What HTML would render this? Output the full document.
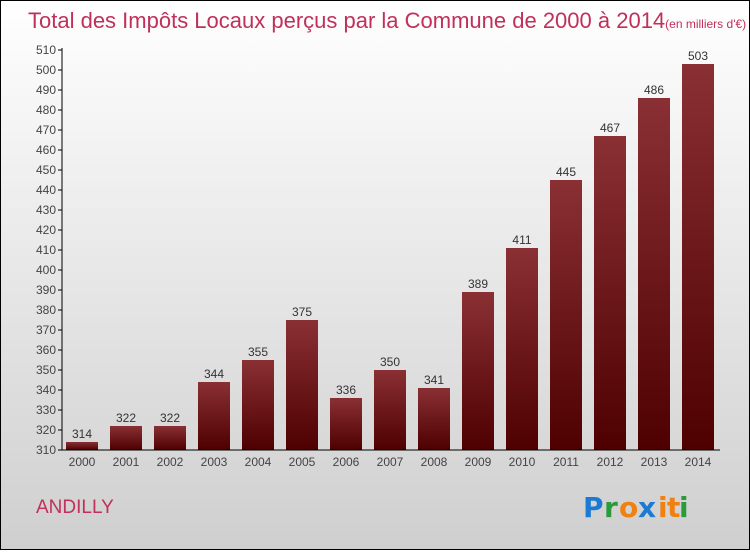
<!DOCTYPE html>
<html><head><meta charset="utf-8"><style>
body{margin:0}
#c{width:750px;height:550px;position:relative;font-family:"Liberation Sans","DejaVu Sans",sans-serif}
</style></head><body>
<div id="c">
<svg width="750" height="550" xmlns="http://www.w3.org/2000/svg">
<defs>
<linearGradient id="bg" x1="0" y1="0" x2="0" y2="1"><stop offset="0" stop-color="#ffffff"/><stop offset="1" stop-color="#cfcfcf"/></linearGradient>
<linearGradient id="bar" x1="0" y1="0" x2="0" y2="1"><stop offset="0" stop-color="#8a3034"/><stop offset="1" stop-color="#4e0000"/></linearGradient>
</defs>
<rect x="0.5" y="0.5" width="749" height="549" fill="url(#bg)" stroke="#000"/>
<text x="28" y="28" font-size="22" fill="#c0305a">Total des Impôts Locaux perçus par la Commune de 2000 à 2014<tspan font-size="12">(en milliers d'€)</tspan></text>
<g id="yaxis"></g>
<g id="bars"></g>
<g id="xaxis"></g>
<text x="36" y="513" font-size="19" fill="#c0305a">ANDILLY</text>
<g font-size="28" font-weight="bold" font-family="'DejaVu Sans',sans-serif">
<text x="583" y="517" fill="#1a7ad4">P</text><text x="604" y="517" fill="#2a9a3a">r</text><text x="619" y="517" fill="#f08010">o</text><text x="638" y="517" fill="#1a7ad4">x</text><text x="658" y="517" fill="#f08010">i</text><text x="667" y="517" fill="#f08010">t</text><text x="679" y="517" fill="#2a9a3a">i</text>
</g>
</svg>
</div>
<script>
const years=["2000","2001","2002","2003","2004","2005","2006","2007","2008","2009","2010","2011","2012","2013","2014"];
const values=[314,322,322,344,355,375,336,350,341,389,411,445,467,486,503];
const yTicks=[310,320,330,340,350,360,370,380,390,400,410,420,430,440,450,460,470,480,490,500,510];
const NS="http://www.w3.org/2000/svg";
const y0=450,yMin=310,pxPer=2,x0=62,step=44,bw=32;
function ys(v){return y0-(v-yMin)*pxPer;}
function xs(i){return 82+i*step;}
function mk(t,a,p,txt){const e=document.createElementNS(NS,t);for(const k in a)e.setAttribute(k,a[k]);if(txt!==undefined)e.textContent=txt;p.appendChild(e);return e;}
const ya=document.getElementById('yaxis'),ba=document.getElementById('bars'),xa=document.getElementById('xaxis');
mk('line',{x1:x0,y1:ys(510)-2,x2:x0,y2:y0,stroke:'#000'},ya);
yTicks.forEach(v=>{
 const l=mk('line',{x1:x0-4,y1:ys(v),x2:x0,y2:ys(v),stroke:'#000'},ya);
 
 
 const t=mk('text',{x:x0-6,y:ys(v)+4,'font-size':12,fill:'#444','text-anchor':'end'},ya,v);
 
 
});
mk('line',{x1:x0,y1:y0,x2:720,y2:y0,stroke:'#000'},xa);
years.forEach((yr,i)=>{
 const v=values[i];
 const r=mk('rect',{x:xs(i)-bw/2,y:ys(v),width:bw,height:y0-ys(v),fill:'url(#bar)'},ba);
 
 
 const lb=mk('text',{x:xs(i),y:ys(v)-4,'font-size':12,fill:'#333','text-anchor':'middle'},ba,v);
 
 
 const t=mk('text',{x:xs(i),y:y0+16,'font-size':12,fill:'#444','text-anchor':'middle'},xa,yr);
 
 
});
</script>
</body></html>
